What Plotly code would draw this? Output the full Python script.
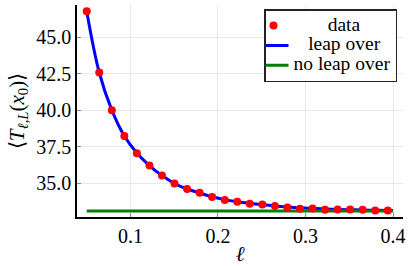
import plotly.graph_objects as go

# data points (ell, <T>)
ell = [0.0500, 0.0643, 0.0787, 0.0930, 0.1073, 0.1217, 0.1360, 0.1503, 0.1647,
       0.1790, 0.1933, 0.2077, 0.2220, 0.2363, 0.2507, 0.2650, 0.2793, 0.2937,
       0.3080, 0.3223, 0.3367, 0.3510, 0.3653, 0.3797, 0.3940]
t_data = [46.78, 42.58, 40.00, 38.23, 37.05, 36.20, 35.51, 34.97, 34.59,
          34.34, 34.04, 33.84, 33.72, 33.58, 33.53, 33.42, 33.32, 33.24,
          33.26, 33.17, 33.19, 33.19, 33.17, 33.12, 33.12]

# smooth "leap over" curve
ell_fit = [0.0500, 0.0643, 0.0787, 0.0930, 0.1073, 0.1217, 0.1360, 0.1503, 0.1647,
           0.1790, 0.1933, 0.2077, 0.2220, 0.2363, 0.2507, 0.2650, 0.2793, 0.2937,
           0.3080, 0.3223, 0.3367, 0.3510, 0.3653, 0.3797, 0.3940, 0.4000]
t_fit = [46.78, 42.58, 40.00, 38.22, 37.06, 36.20, 35.51, 34.97, 34.59,
         34.32, 34.06, 33.86, 33.72, 33.61, 33.52, 33.43, 33.36, 33.30,
         33.26, 33.22, 33.19, 33.17, 33.15, 33.13, 33.12, 33.11]

# "no leap over" constant
ell_const = [0.05, 0.40]
t_const = [33.08, 33.08]

x_ticks = [0.1, 0.2, 0.3, 0.4]
x_tick_labels = ["0.1", "0.2", "0.3", "0.4"]
y_ticks = [35.0, 37.5, 40.0, 42.5, 45.0]
y_tick_labels = ["35.0", "37.5", "40.0", "42.5", "45.0"]

FONT = "Liberation Serif"


def legend_label(text, pad):
    return '<span style="font-size:19.5px">' + "&nbsp;" * pad + text + "</span>"


fig = go.Figure()
fig.add_trace(go.Scatter(
    x=ell_fit, y=t_fit, mode="lines", name=legend_label("leap over", 3),
    line=dict(color="blue", width=3, shape="spline"), legendrank=2,
))
fig.add_trace(go.Scatter(
    x=ell_const, y=t_const, mode="lines", name=legend_label("no leap over", 0),
    line=dict(color="green", width=3), legendrank=3,
))
fig.add_trace(go.Scatter(
    x=ell, y=t_data, mode="markers", name=legend_label("data", 7),
    marker=dict(color="red", size=8, line=dict(width=0)), legendrank=1,
))

axis_common = dict(
    showgrid=True, gridcolor="#e8e8e8", gridwidth=1,
    showline=True, linecolor="black", linewidth=1.5,
    ticks="inside", ticklen=4, tickcolor="#888888",
    zeroline=False, mirror=False,
    tickfont=dict(family=FONT, size=20, color="black"),
)

fig.update_layout(
    width=415, height=266,
    margin=dict(l=77, r=12, t=5, b=49, autoexpand=False),
    paper_bgcolor="white", plot_bgcolor="white",
    font=dict(family=FONT, size=20, color="black"),
    showlegend=True,
    legend=dict(
        x=0.9816, y=0.981, xanchor="right", yanchor="top",
        bgcolor="white", bordercolor="#222222", borderwidth=1.5,
        font=dict(family=FONT, size=13, color="black"),
        traceorder="normal", itemwidth=30, tracegroupgap=0,
        indentation=-12,
    ),
    xaxis=dict(
        range=[0.0389, 0.4114], tickvals=x_ticks, ticktext=x_tick_labels,
        title=dict(text="<i>ℓ</i>", font=dict(family=FONT, size=21), standoff=2),
        **axis_common,
    ),
    yaxis=dict(
        range=[32.67, 47.21], tickvals=y_ticks, ticktext=y_tick_labels,
        title=dict(text="⟨<i>T</i><sub><i>ℓ,L</i></sub>(<i>x</i><sub>0</sub>)⟩",
                   font=dict(family=FONT, size=21), standoff=6),
        **axis_common,
    ),
)

fig.write_html(
    "out.html",
    config={"displayModeBar": False},
    post_script="document.body.style.margin='0';document.body.style.padding='0';",
)
